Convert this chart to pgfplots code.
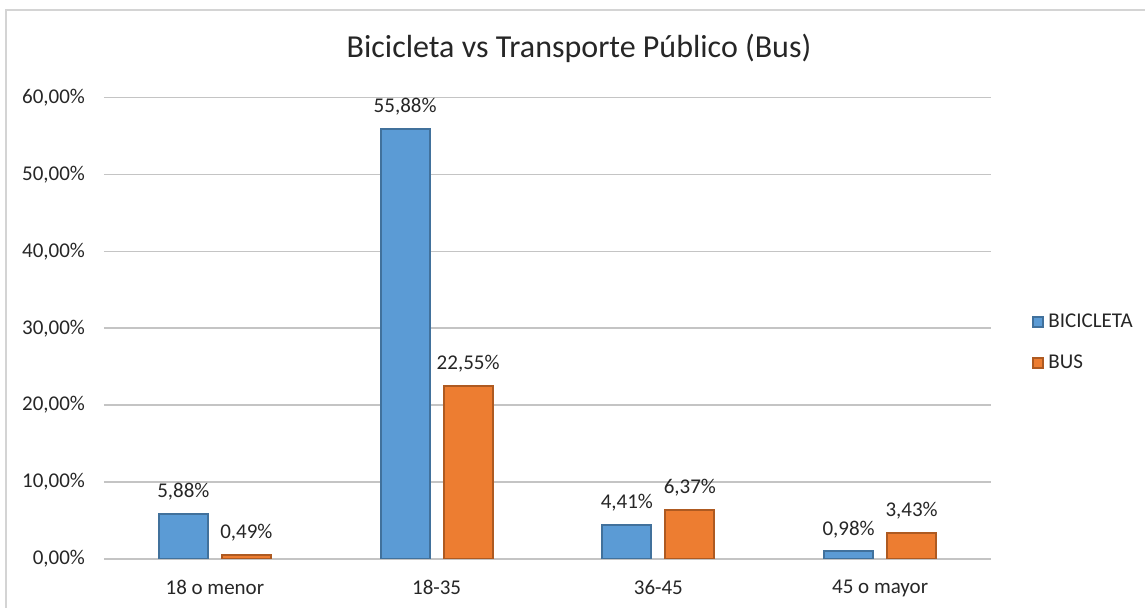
\documentclass[border=0pt]{standalone}
\usepackage{pgfplots}
\pgfplotsset{compat=1.18}
\usepackage{fontspec}
\setmainfont{Carlito}
\definecolor{barblue}{HTML}{5B9BD5}
\definecolor{barblueedge}{HTML}{41719C}
\definecolor{barorange}{HTML}{ED7D31}
\definecolor{barorangeedge}{HTML}{AE5A21}
\definecolor{gridgray}{HTML}{C4C4C4}
\definecolor{framegray}{HTML}{D4D4D4}
\definecolor{txt}{HTML}{262626}
\begin{document}
\begin{tikzpicture}
\useasboundingbox (0,0) rectangle (572.5pt,304pt);
\draw[framegray, line width=0.75pt] (3pt,-5pt) -- (3pt,299pt) -- (580pt,299pt);
\node[font=\fontsize{16}{19}\selectfont, text=txt] at (289.5pt,280pt) {Bicicleta vs Transporte Público (Bus)};
\begin{axis}[
  at={(52pt,24.5pt)}, anchor=south west,
  width=443.5pt, height=230.75pt, scale only axis,
  xmin=-0.5, xmax=3.5, ymin=0, ymax=60,
  ytick={0,10,...,60},
  xtick={0,1,2,3},
  xticklabels={18 o menor,18-35,36-45,45 o mayor},
  ybar=7pt, bar width=24.5pt,
  axis line style={draw=none},
  major tick length=0pt,
  ymajorgrids, grid style={gridgray, line width=0.8pt},
  /pgf/number format/assume math mode=true,
  yticklabel={\pgfmathprintnumber[fixed,zerofill,precision=2,use comma]{\tick}\%},
  tick label style={font=\fontsize{10.5}{12}\selectfont, text=txt},
  yticklabel style={xshift=-6pt},
  xticklabel style={yshift=-7pt},
  nodes near coords={\pgfmathprintnumber[fixed,zerofill,precision=2,use comma]{\pgfplotspointmeta}\%},
  nodes near coords style={font=\fontsize{10.5}{12}\selectfont, text=txt, yshift=3pt},
  legend style={at={(1.0395,0.469)}, anchor=west, draw=none, font=\fontsize{10.5}{12}\selectfont, text=txt, row sep=8pt},
  legend cell align=left,
  legend image code/.code={\draw[#1] (0pt,-2.5pt) rectangle (5pt,2.5pt);},
]
\addplot[fill=barblue, draw=barblueedge, line width=1pt] coordinates {(0,5.88) (1,55.88) (2,4.41) (3,0.98)};
\addplot[fill=barorange, draw=barorangeedge, line width=1pt] coordinates {(0,0.49) (1,22.55) (2,6.37) (3,3.43)};
\legend{BICICLETA,BUS}
\end{axis}
\end{tikzpicture}
\end{document}
